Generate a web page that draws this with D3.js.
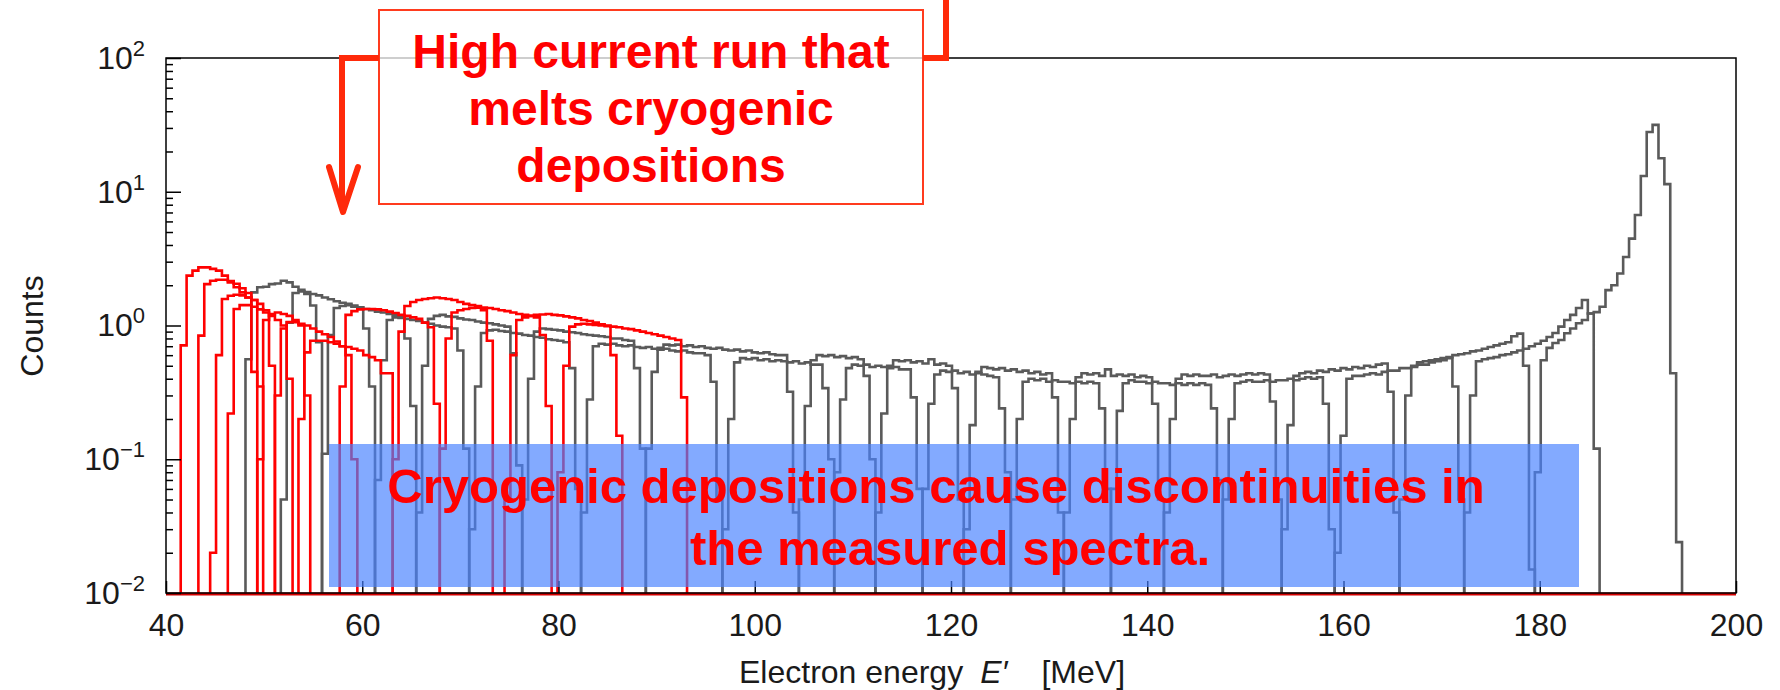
<!DOCTYPE html>
<html>
<head>
<meta charset="utf-8">
<script src="https://cdn.jsdelivr.net/npm/d3@7"></script>
<style>
  body { margin: 0; background: #fff; }
  svg { display: block; font-family: "Liberation Sans", Arial, Helvetica, sans-serif; }
</style>
</head>
<body>
<svg id="chart" width="1780" height="690"></svg>
<script>
// histogram bin width in MeV (all runs share the same binning)
const BIN = 0.6;

// normal runs (gray): left edge of first bin, then counts per bin
const grayStart = [48.1, 51.7, 55.9, 61.3, 65.5, 70.9, 76.3, 82.3, 88.9, 96.7, 104.5, 108.1, 112.3,
  117.1, 121.3, 126.1, 131.5, 136.3, 141.7, 147.7, 153.7, 159.1, 165.7, 172.3, 179.5];
const grayCounts = [
  [0.56, 1.77, 1.93, 1.95, 2.04, 2.06, 2.16, 2.1, 1.95, 1.85, 1.72, 1.41, 0.75],
  [0.05, 1.05, 1.75, 1.8, 1.78, 1.72, 1.68, 1.62, 1.57, 1.52, 1.48, 1.45, 1.41, 1.37, 0.95, 0.35],
  [0.11, 0.85, 1.35, 1.4, 1.42, 1.38, 1.36, 1.33, 1.3, 1.27, 1.25, 1.22, 1.2, 1.18, 0.8, 0.25],
  [0.07, 0.55, 1.1, 1.15, 1.14, 1.12, 1.1, 1.08, 1.05, 1.03, 1.0, 0.98, 0.97, 0.95, 0.65, 0.12],
  [0.04, 0.5, 1.12, 1.18, 1.2, 1.17, 1.16, 1.13, 1.11, 1.1, 1.07, 1.05, 1.04, 1.02, 1.0, 0.98, 0.62, 0.09],
  [0.03, 0.35, 0.88, 0.92, 0.93, 0.91, 0.9, 0.88, 0.87, 0.85, 0.84, 0.82, 0.81, 0.79, 0.78, 0.77, 0.75, 0.48, 0.06],
  [0.05, 0.4, 0.9, 0.95, 0.94, 0.93, 0.92, 0.9, 0.89, 0.88, 0.86, 0.85, 0.84, 0.83, 0.82, 0.8, 0.8, 0.78, 0.77, 0.48, 0.12],
  [0.04, 0.28, 0.7, 0.73, 0.72, 0.73, 0.71, 0.7, 0.71, 0.69, 0.68, 0.69, 0.67, 0.66, 0.67, 0.65, 0.64, 0.65, 0.63, 0.62, 0.62, 0.6, 0.38, 0.05],
  [0.12, 0.45, 0.68, 0.72, 0.71, 0.72, 0.7, 0.71, 0.69, 0.7, 0.68, 0.67, 0.68, 0.66, 0.65, 0.66, 0.64, 0.65, 0.63, 0.62, 0.63, 0.61, 0.6, 0.6, 0.32, 0.04],
  [0.03, 0.2, 0.53, 0.57, 0.56, 0.57, 0.55, 0.56, 0.54, 0.55, 0.54, 0.53, 0.54, 0.52, 0.53, 0.51, 0.51, 0.34, 0.1],
  [0.05, 0.25, 0.55, 0.6, 0.59, 0.6, 0.58, 0.59, 0.57, 0.58, 0.56, 0.42, 0.1],
  [0.08, 0.28, 0.48, 0.51, 0.5, 0.51, 0.49, 0.5, 0.49, 0.48, 0.49, 0.47, 0.47, 0.29, 0.06],
  [0.04, 0.22, 0.5, 0.55, 0.54, 0.55, 0.53, 0.54, 0.52, 0.56, 0.51, 0.52, 0.5, 0.34, 0.05],
  [0.06, 0.26, 0.43, 0.46, 0.45, 0.46, 0.44, 0.45, 0.43, 0.44, 0.43, 0.42, 0.41, 0.24, 0.08],
  [0.03, 0.18, 0.45, 0.49, 0.48, 0.47, 0.48, 0.46, 0.47, 0.45, 0.46, 0.44, 0.45, 0.43, 0.44, 0.29, 0.04],
  [0.05, 0.2, 0.38, 0.4, 0.39, 0.4, 0.38, 0.39, 0.38, 0.38, 0.37, 0.38, 0.37, 0.38, 0.37, 0.24, 0.06],
  [0.04, 0.2, 0.41, 0.44, 0.43, 0.44, 0.42, 0.47, 0.42, 0.43, 0.42, 0.43, 0.41, 0.42, 0.41, 0.26, 0.05],
  [0.06, 0.23, 0.37, 0.39, 0.38, 0.38, 0.37, 0.38, 0.37, 0.37, 0.36, 0.37, 0.36, 0.37, 0.36, 0.37, 0.36, 0.24, 0.07],
  [0.04, 0.2, 0.4, 0.43, 0.42, 0.43, 0.42, 0.42, 0.43, 0.41, 0.42, 0.43, 0.42, 0.43, 0.44, 0.43, 0.44, 0.43, 0.27, 0.05],
  [0.05, 0.2, 0.37, 0.38, 0.39, 0.38, 0.38, 0.39, 0.38, 0.39, 0.39, 0.4, 0.39, 0.4, 0.41, 0.4, 0.41, 0.26, 0.03],
  [0.03, 0.18, 0.42, 0.44, 0.45, 0.44, 0.46, 0.45, 0.47, 0.46, 0.48, 0.47, 0.49, 0.48, 0.5, 0.49, 0.51, 0.52, 0.32, 0.04],
  [0.02, 0.15, 0.4, 0.42, 0.42, 0.43, 0.44, 0.43, 0.45, 0.46, 0.46, 0.48, 0.48, 0.49, 0.51, 0.51, 0.53, 0.54, 0.55, 0.57, 0.35, 0.05],
  [0.05, 0.3, 0.5, 0.53, 0.54, 0.55, 0.56, 0.57, 0.58, 0.6, 0.61, 0.62, 0.64, 0.65, 0.67, 0.69, 0.71, 0.73, 0.75, 0.83, 0.87, 0.5, 0.015],
  [0.04, 0.3, 0.54, 0.56, 0.57, 0.58, 0.6, 0.61, 0.63, 0.65, 0.67, 0.7, 0.73, 0.77, 0.82, 0.88, 0.98, 1.1, 1.2, 1.35, 1.55, 1.23, 0.12],
  [0.08, 0.55, 0.68, 0.74, 0.78, 0.875, 0.95, 1.04, 1.1, 1.23, 1.26, 1.38, 1.84, 2.0, 2.45, 3.25, 4.46, 6.7, 13.1, 28, 31.6, 17.8, 11.4, 0.44, 0.024]
];

// high current runs (red)
const redStart = [41.5, 43.3, 44.5, 46.3, 49.3, 51.1, 53.5, 57.7, 63.1, 67.9, 74.5, 79.9];
const redCounts = [
  [0.71, 2.36, 2.57, 2.72, 2.72, 2.65, 2.57, 2.36, 2.1, 1.93, 1.77, 1.62, 0.45],
  [0.84, 2.04, 2.16, 2.2, 2.2, 2.15, 2.05, 1.9, 1.75, 1.55, 0.35],
  [0.02, 0.6, 1.58, 1.67, 1.7, 1.68, 1.62, 1.55, 1.45, 1.3, 0.5],
  [0.22, 1.33, 1.42, 1.42, 1.38, 1.32, 1.25, 1.18, 1.1, 1.0, 0.4],
  [0.1, 1.1, 1.22, 1.25, 1.22, 1.18, 1.1, 1.0, 0.3],
  [0.3, 0.95, 1.06, 1.06, 1.03, 1.0, 0.95, 0.9, 0.86, 0.82, 0.76, 0.7, 0.6, 0.1],
  [0.2, 0.63, 0.77, 0.77, 0.77, 0.75, 0.73, 0.7, 0.69, 0.67, 0.65, 0.6, 0.58, 0.55, 0.44, 0.44],
  [0.35, 1.2, 1.28, 1.32, 1.33, 1.33, 1.32, 1.3, 1.27, 1.24, 1.2, 1.18, 1.15, 1.12, 1.05, 0.97, 0.26],
  [0.1, 0.9, 1.4, 1.5, 1.55, 1.58, 1.6, 1.62, 1.6, 1.58, 1.55, 1.5, 1.45, 1.42, 1.4, 1.3, 0.77],
  [0.12, 0.8, 1.25, 1.3, 1.33, 1.35, 1.36, 1.36, 1.35, 1.33, 1.3, 1.28, 1.25, 1.22, 1.2, 1.18, 1.15, 0.85, 0.25],
  [0.05, 0.6, 1.1, 1.15, 1.18, 1.2, 1.21, 1.22, 1.2, 1.19, 1.17, 1.15, 1.13, 1.1, 1.08, 1.05, 1.02, 1.0, 0.6, 0.15],
  [0.08, 0.5, 0.98, 1.02, 1.03, 1.02, 1.01, 1.0, 0.99, 0.98, 0.97, 0.95, 0.94, 0.92, 0.9, 0.88, 0.86, 0.84, 0.82, 0.8, 0.78, 0.29]
];

const xTicks = [40, 60, 80, 100, 120, 140, 160, 180, 200];
const yTicks = [0.01, 0.1, 1, 10, 100];
const yTickExp = ["\u22122", "\u22121", "0", "1", "2"];

const margin = { top: 58, right: 44, bottom: 97, left: 166 };
const width = 1780 - margin.left - margin.right;
const height = 690 - margin.top - margin.bottom;

const x = d3.scaleLinear().domain([40, 200]).range([0, width]);
const y = d3.scaleLog().domain([0.01, 100]).range([height, 0]);

const svg = d3.select("#chart");
const g = svg.append("g").attr("transform", "translate(" + margin.left + "," + margin.top + ")");

g.append("clipPath").attr("id", "plotclip")
  .append("rect").attr("x", 0).attr("y", -2).attr("width", width).attr("height", height + 4);

// step outline of one run, closed down to the baseline at both ends
function stepPath(lo, counts) {
  let p = "M" + x(lo) + "," + height;
  counts.forEach(function (c, i) {
    p += "V" + y(Math.max(c, 0.01)) + "H" + x(lo + (i + 1) * BIN);
  });
  return p + "V" + height;
}

const hist = g.append("g").attr("clip-path", "url(#plotclip)");

hist.selectAll(".gray")
  .data(grayStart)
  .enter()
  .append("path")
  .attr("class", "gray")
  .attr("d", function (d, i) { return stepPath(d, grayCounts[i]); })
  .attr("fill", "none")
  .attr("stroke", "#5a5a5a")
  .attr("stroke-width", 2.6);

hist.selectAll(".red")
  .data(redStart)
  .enter()
  .append("path")
  .attr("class", "red")
  .attr("d", function (d, i) { return stepPath(d, redCounts[i]); })
  .attr("fill", "none")
  .attr("stroke", "#ff0000")
  .attr("stroke-width", 2.6);

// red histogram baseline running along the bottom
g.append("line")
  .attr("x1", x(40)).attr("x2", x(200))
  .attr("y1", height + 1).attr("y2", height + 1)
  .attr("stroke", "#d40000")
  .attr("stroke-width", 3);

// frame
g.append("rect")
  .attr("width", width).attr("height", height)
  .attr("fill", "none")
  .attr("stroke", "#000")
  .attr("stroke-width", 1.5);

// y axis, major and minor ticks pointing inwards
const minor = y.ticks().filter(function (d) { return yTicks.indexOf(d) < 0; });
const gyMinor = g.append("g").call(d3.axisLeft(y).tickValues(minor).tickSizeInner(-7).tickSizeOuter(0).tickFormat(""));
const gy = g.append("g").call(d3.axisLeft(y).tickValues(yTicks).tickSizeInner(-15).tickSizeOuter(0).tickPadding(21).tickFormat(""));
[gy, gyMinor].forEach(function (a) {
  a.select(".domain").remove();
  a.selectAll(".tick line").attr("stroke", "#000").attr("stroke-width", 1.5);
});
gy.attr("font-size", 32).attr("font-family", null);
gy.selectAll(".tick text")
  .attr("fill", "#1a1a1a")
  .each(function (d, i) {
    const t = d3.select(this);
    t.append("tspan").text("10");
    t.append("tspan").attr("dy", -13).attr("font-size", 22).text(yTickExp[i]);
  });

// x axis
const gx = g.append("g")
  .attr("transform", "translate(0," + height + ")")
  .call(d3.axisBottom(x).tickValues(xTicks).tickSizeInner(-12).tickSizeOuter(0).tickPadding(20).tickFormat(d3.format("d")));
gx.select(".domain").remove();
gx.selectAll(".tick line").attr("stroke", "#000").attr("stroke-width", 1.5);
gx.attr("font-size", 32).attr("font-family", null);
gx.selectAll(".tick text").attr("fill", "#1a1a1a");

// axis titles
const xt = svg.append("text")
  .attr("x", 739).attr("y", 683)
  .attr("font-size", 32).attr("fill", "#1a1a1a");
xt.append("tspan").text("Electron energy");
xt.append("tspan").attr("dx", 17).attr("font-style", "italic").text("E\u2032");
xt.append("tspan").attr("dx", 34).text("[MeV]");

svg.append("text")
  .attr("transform", "translate(43,326) rotate(-90)")
  .attr("text-anchor", "middle")
  .attr("font-size", 32).attr("fill", "#1a1a1a")
  .text("Counts");

// blue note box over the low part of the spectra
svg.append("rect")
  .attr("x", 329).attr("y", 444).attr("width", 1250).attr("height", 143)
  .attr("fill", "rgb(72,130,255)").attr("fill-opacity", 0.68);

const note = ["Cryogenic depositions cause discontinuities in", "the measured spectra."];
svg.selectAll(".note")
  .data(note)
  .enter()
  .append("text")
  .attr("class", "note")
  .attr("x", function (d, i) { return i === 0 ? 936 : 950; })
  .attr("y", function (d, i) { return 503 + i * 62; })
  .attr("text-anchor", "middle")
  .attr("font-size", 49).attr("font-weight", "bold")
  .attr("fill", "#ff0000")
  .text(function (d) { return d; });

// callout for the high current run
svg.append("rect")
  .attr("x", 379).attr("y", 10).attr("width", 544).attr("height", 194)
  .attr("fill", "#fff").attr("fill-opacity", 0.75)
  .attr("stroke", "#ff3b1e").attr("stroke-width", 2);

const callout = ["High current run that", "melts cryogenic", "depositions"];
svg.selectAll(".callout")
  .data(callout)
  .enter()
  .append("text")
  .attr("class", "callout")
  .attr("x", 651)
  .attr("y", function (d, i) { return 68 + i * 57; })
  .attr("text-anchor", "middle")
  .attr("font-size", 48).attr("font-weight", "bold")
  .attr("fill", "#ff0000")
  .text(function (d) { return d; });

const arrowColor = "#ff2a0a";
svg.append("path")
  .attr("d", "M379,58H342V208")
  .attr("fill", "none").attr("stroke", arrowColor).attr("stroke-width", 6);
svg.append("path")
  .attr("d", "M329,167L343,212L358,167")
  .attr("fill", "none").attr("stroke", arrowColor).attr("stroke-width", 6)
  .attr("stroke-linecap", "round").attr("stroke-linejoin", "round");
svg.append("path")
  .attr("d", "M923,58H946V-5")
  .attr("fill", "none").attr("stroke", arrowColor).attr("stroke-width", 6);
</script>
</body>
</html>
